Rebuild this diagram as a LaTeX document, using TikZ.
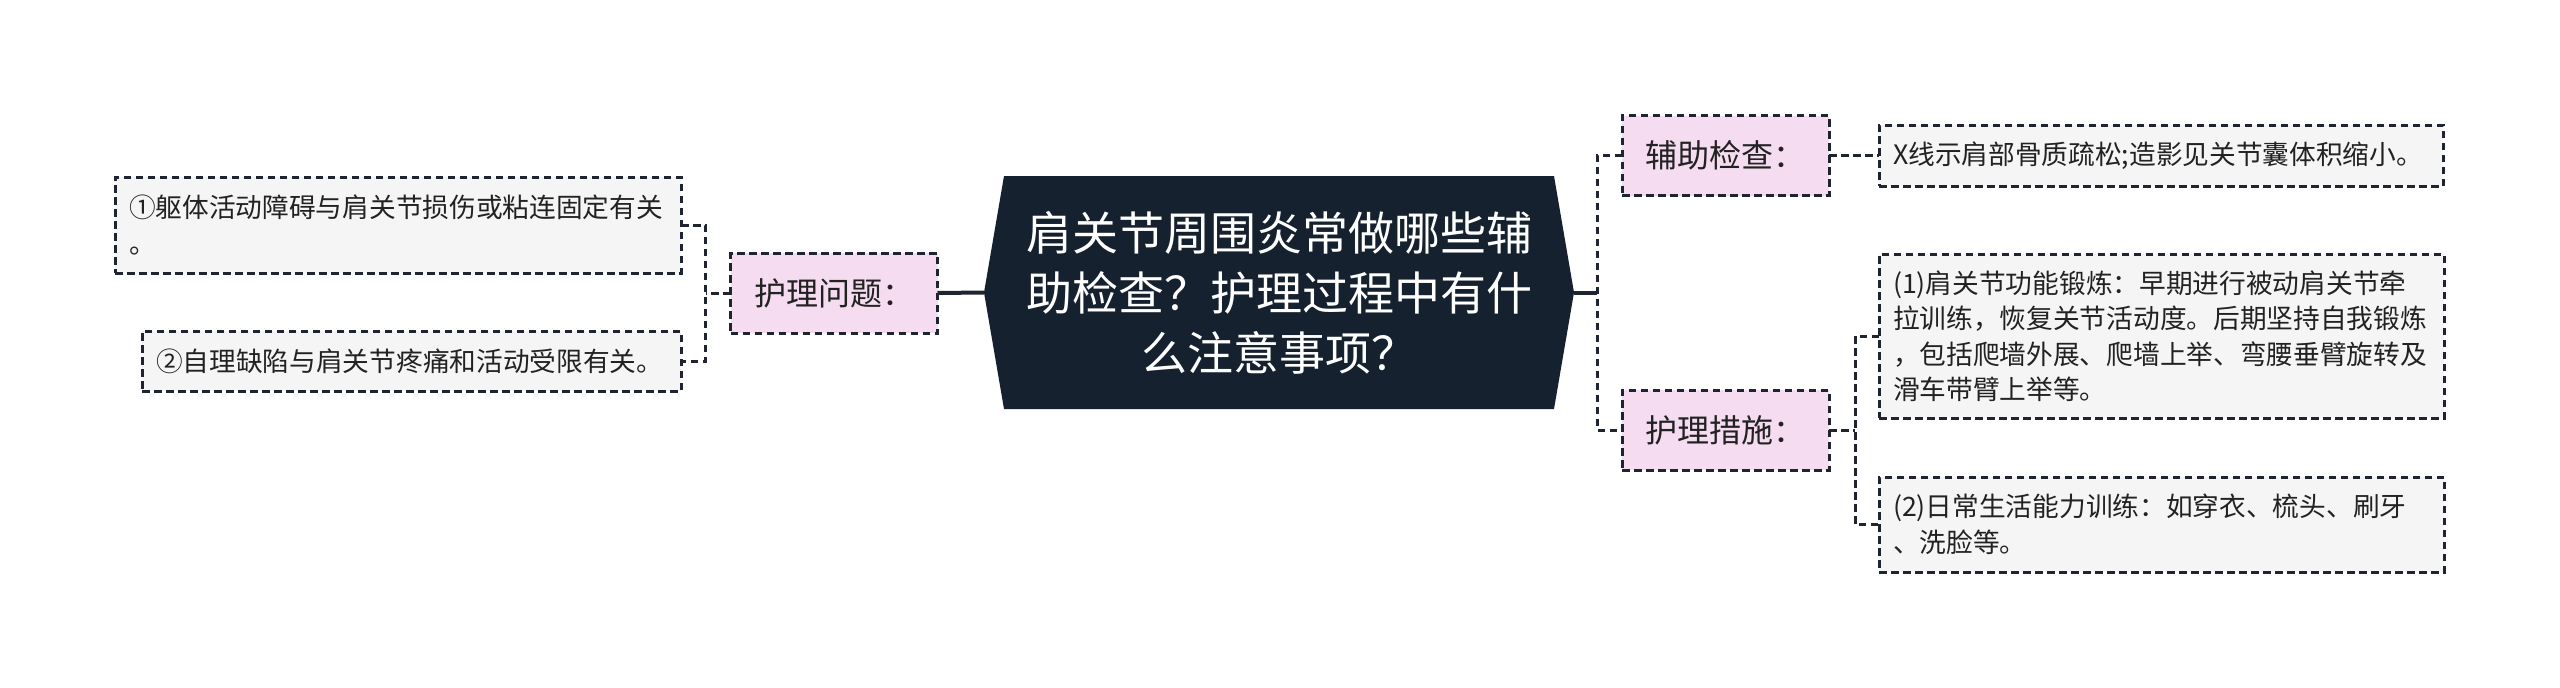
\documentclass[tikz,border=0pt]{standalone}
\usepackage{fontspec}
\setmainfont{Noto Sans CJK SC}
\usetikzlibrary{calc}
\pgfdeclarelayer{background}
\pgfsetlayers{background,main}
\definecolor{navy}{HTML}{16212F}
\definecolor{pinkbg}{HTML}{F5DCF0}
\definecolor{graybg}{HTML}{F5F5F5}
\definecolor{ink}{HTML}{222222}
\definecolor{linec}{HTML}{1E2430}
\begin{document}
\begin{tikzpicture}[x=1pt,y=-1pt,
  every node/.style={inner sep=0pt, outer sep=0pt},
  dbox/.style={draw=linec, line width=3pt, dash pattern=on 7.5pt off 4.5pt, text=ink},
  cat/.style={dbox, fill=pinkbg, minimum width=207pt, minimum height=80pt, font=\fontsize{32}{38}\selectfont, align=center},
  leaf/.style={dbox, fill=graybg, align=left, font=\fontsize{26.7}{35.5}\selectfont},
  central/.style={text=white, align=center, minimum width=550pt, minimum height=233pt, font=\fontsize{46}{60}\selectfont},
  conn/.style={draw=linec, line width=3pt, dash pattern=on 7.5pt off 4.5pt},
  mainconn/.style={draw=linec, line width=4pt},
]
\useasboundingbox (0,0) rectangle (2560,688);

\node[central] (c) at (1279,292.5) {肩关节周围炎常做哪些辅\\助检查？护理过程中有什\\么注意事项？};
\coordinate (cW) at ($(c.west)+(-20,0)$);
\coordinate (cE) at ($(c.east)+(20,0)$);
\begin{pgfonlayer}{background}
\fill[navy] (c.north west) -- (c.north east) -- (cE) -- (c.south east) -- (c.south west) -- (cW) -- cycle;
\end{pgfonlayer}

\node[cat] (p) at (834,293) {护理问题：};
\node[leaf, minimum width=566pt, minimum height=96pt, text width=538pt] (b1) at (398,225) {①躯体活动障碍与肩关节损伤或粘连固定有关\\。};
\node[leaf, minimum width=539pt, minimum height=60pt, text width=511pt] (b2) at (411.5,361) {②自理缺陷与肩关节疼痛和活动受限有关。};

\node[cat] (aux) at (1725.5,155.5) {辅助检查：};
\node[cat] (care) at (1725.5,430) {护理措施：};
\node[leaf, minimum width=564pt, minimum height=61pt, text width=536pt] (xr) at (2161,155.5) {X线示肩部骨质疏松;造影见关节囊体积缩小。};
\node[leaf, minimum width=565pt, minimum height=164pt, text width=537pt] (m1) at (2161.5,336) {(1)肩关节功能锻炼：早期进行被动肩关节牵\\拉训练，恢复关节活动度。后期坚持自我锻炼\\，包括爬墙外展、爬墙上举、弯腰垂臂旋转及\\滑车带臂上举等。};
\node[leaf, minimum width=565pt, minimum height=95pt, text width=537pt] (m2) at (2161.5,524.5) {(2)日常生活能力训练：如穿衣、梳头、刷牙\\、洗脸等。};

% connectors
\draw[mainconn] (cW) -- (p.east);
\coordinate (lj) at ($(p.west)+(-25,0)$);
\draw[conn] (p.west) -- (lj);
\draw[conn] (b1.east) -| (lj) |- (b2.east);

\draw[mainconn] (cE) -- ++(23,0) coordinate (rj);
\draw[conn] (aux.west) -| (rj) |- (care.west);
\draw[conn] (aux.east) -- (xr.west);
\coordinate (rj2) at ($(care.east)+(26,0)$);
\draw[conn] (care.east) -- (rj2);
\draw[conn] (m1.west) -| (rj2) |- (m2.west);
\end{tikzpicture}
\end{document}
